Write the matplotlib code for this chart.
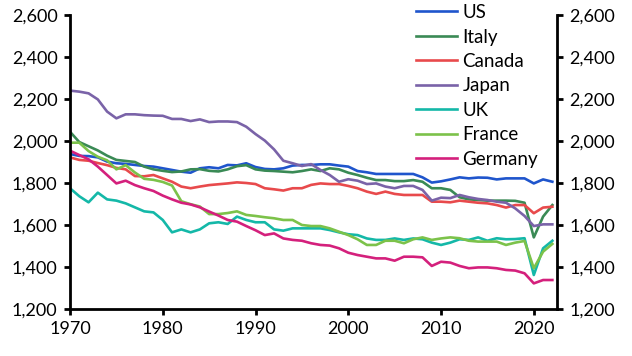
import matplotlib
matplotlib.use("Agg")
import matplotlib.pyplot as plt
import numpy as np

plt.rcParams['font.family'] = ['Lato', 'DejaVu Sans']

years = list(range(1970, 2023))

us = [1938, 1929, 1928, 1922, 1902, 1894, 1891, 1886, 1881, 1878,
      1870, 1862, 1854, 1849, 1870, 1875, 1870, 1886, 1884, 1894,
      1876, 1867, 1865, 1870, 1883, 1886, 1886, 1889, 1889, 1883,
      1878, 1857, 1851, 1843, 1843, 1843, 1843, 1843, 1827, 1802,
      1808, 1817, 1827, 1822, 1826, 1825, 1817, 1822, 1822, 1822,
      1798, 1817, 1806]
italy = [2044, 1995, 1975, 1955, 1930, 1910, 1905, 1900, 1878, 1865,
         1858, 1852, 1855, 1865, 1866, 1858, 1855, 1865, 1880, 1885,
         1865, 1859, 1857, 1854, 1851, 1857, 1865, 1857, 1870, 1865,
         1849, 1838, 1825, 1814, 1814, 1809, 1809, 1814, 1806, 1775,
         1775, 1767, 1732, 1722, 1719, 1716, 1716, 1716, 1715, 1706,
         1541, 1640, 1695]
canada = [1922, 1910, 1906, 1895, 1885, 1872, 1865, 1833, 1832, 1838,
          1822, 1806, 1783, 1775, 1783, 1790, 1794, 1798, 1803, 1800,
          1795, 1775, 1770, 1764, 1775, 1775, 1791, 1798, 1795, 1795,
          1786, 1775, 1759, 1748, 1759, 1748, 1743, 1743, 1743, 1711,
          1711, 1708, 1716, 1711, 1706, 1703, 1695, 1683, 1695, 1695,
          1656, 1683, 1687]
japan = [2240, 2235, 2227, 2198, 2140, 2108, 2127, 2127, 2123, 2121,
         2120, 2105, 2105, 2095, 2103, 2090, 2093, 2093, 2090, 2068,
         2033, 2002, 1960, 1906, 1894, 1881, 1890, 1862, 1838, 1806,
         1818, 1811, 1795, 1798, 1783, 1775, 1786, 1786, 1767, 1716,
         1730, 1728, 1743, 1732, 1724, 1719, 1711, 1706, 1679, 1643,
         1595, 1603, 1603]
uk = [1775, 1737, 1708, 1754, 1722, 1716, 1703, 1684, 1665, 1660,
      1624, 1565, 1579, 1565, 1579, 1608, 1613, 1605, 1640, 1624,
      1613, 1613, 1579, 1573, 1584, 1584, 1584, 1584, 1576, 1565,
      1556, 1552, 1536, 1529, 1529, 1536, 1529, 1536, 1532, 1516,
      1505, 1516, 1532, 1529, 1541, 1525, 1537, 1532, 1533, 1537,
      1362, 1489, 1525]
france = [1992, 1992, 1952, 1925, 1908, 1865, 1885, 1850, 1820, 1815,
          1805, 1788, 1713, 1699, 1688, 1652, 1652, 1657, 1665, 1648,
          1643, 1637, 1632, 1624, 1624, 1600, 1595, 1595, 1584, 1568,
          1552, 1532, 1505, 1505, 1525, 1525, 1513, 1532, 1541, 1529,
          1536, 1541, 1537, 1525, 1521, 1521, 1521, 1505, 1516, 1524,
          1394, 1473, 1510]
germany = [1954, 1933, 1913, 1878, 1838, 1798, 1811, 1790, 1775, 1762,
           1740, 1722, 1706, 1698, 1684, 1664, 1645, 1624, 1616, 1595,
           1575, 1552, 1560, 1536, 1529, 1525, 1513, 1505, 1502, 1489,
           1468, 1457, 1449, 1441, 1441, 1430, 1449, 1449, 1446, 1405,
           1425, 1421, 1405, 1394, 1398, 1398, 1394, 1386, 1383, 1370,
           1322, 1338, 1338]

series_names = ["US", "Italy", "Canada", "Japan", "UK", "France", "Germany"]
series_values = [us, italy, canada, japan, uk, france, germany]
colors = ["#1f55cc", "#3a8a55", "#e84a4c", "#7a63a8", "#14b8a8", "#7cc24a", "#d4207c"]

y_ticks = [1200, 1400, 1600, 1800, 2000, 2200, 2400, 2600]
x_ticks = [1970, 1980, 1990, 2000, 2010, 2020]

fig = plt.figure(figsize=(6.32, 3.56), dpi=100)
ax = fig.add_axes([70/632, 1 - 309/356, (557-70)/632, (309-15)/356])

for name, vals, c in zip(series_names, series_values, colors):
    ax.plot(years, vals, color=c, lw=1.9, label=name, solid_joinstyle='round')

ax.set_xlim(1970, 2022.5)
ax.set_ylim(1200, 2600)
ax.set_yticks(y_ticks)
ax.set_yticklabels([f"{v:,}" for v in y_ticks])
ax.set_xticks(x_ticks)
ax.set_xticklabels([str(v) for v in x_ticks])

for s in ['left', 'right', 'bottom']:
    ax.spines[s].set_linewidth(2.0)
    ax.spines[s].set_color('black')
ax.spines['top'].set_visible(False)
ax.tick_params(axis='both', which='major', direction='out', length=4, width=2.0,
               labelsize=13, colors='black')
ax.tick_params(axis='y', right=True, labelright=True, pad=5)
ax.tick_params(axis='x', pad=5)

leg = ax.legend(loc='upper left', bbox_to_anchor=(416/632, 1 - 4/356),
                bbox_transform=fig.transFigure, frameon=False, fontsize=13.5,
                handlelength=2.2, handletextpad=0.27, labelspacing=0.40,
                borderpad=0, borderaxespad=0)

fig.savefig("out.png", dpi=100)
